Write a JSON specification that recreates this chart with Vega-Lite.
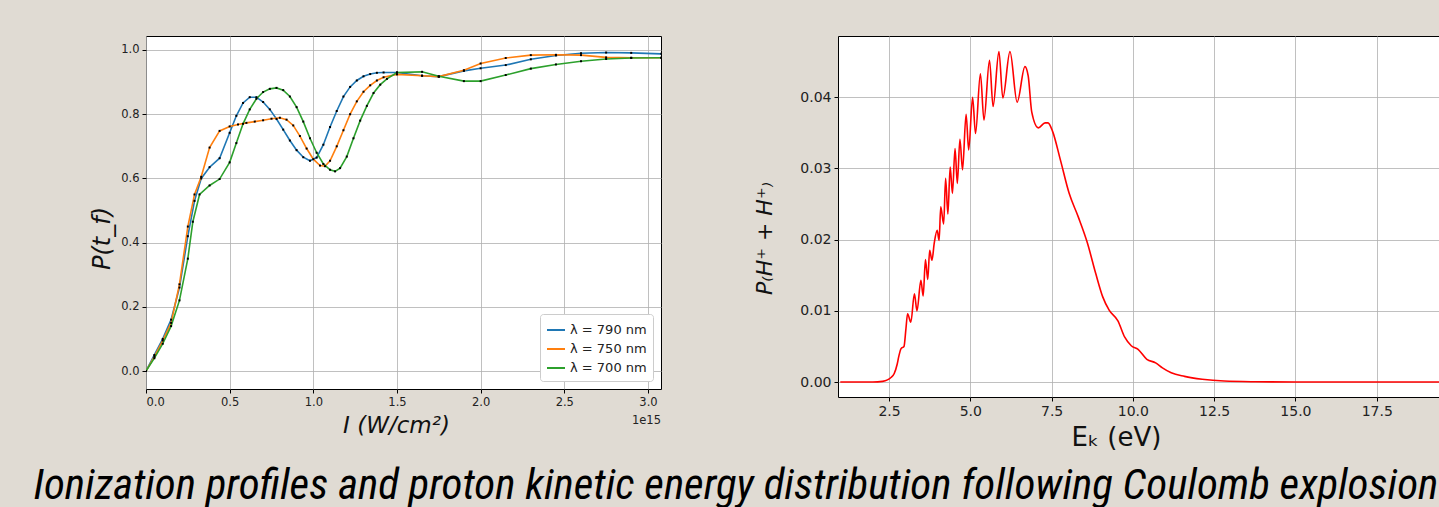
{
  "$schema": "https://vega.github.io/schema/vega-lite/v6.json",
  "background": "#e0dbd3",
  "padding": {"left": 33, "top": 35, "right": 0, "bottom": 0},
  "autosize": {"type": "pad"},
  "bounds": "flush",
  "spacing": 177,
  "resolve": {"scale": {"color": "independent"}, "legend": {"color": "independent"}},
  "config": {
    "font": "DejaVu Sans",
    "view": {"stroke": "black", "strokeWidth": 1, "fill": "white"},
    "axis": {
      "domain": false, "grid": true, "gridColor": "#b0b0b0", "gridWidth": 0.8,
      "tickColor": "black", "tickSize": 4, "labelPadding": 3,
      "labelFont": "DejaVu Sans", "labelColor": "#222",
      "titleFont": "DejaVu Sans", "titleFontWeight": "normal", "titleColor": "#111"
    }
  },
  "title": {
    "text": "Ionization profiles and proton kinetic energy distribution following Coulomb explosion",
    "orient": "bottom", "anchor": "start",
    "font": "Roboto Condensed, Liberation Sans Narrow, DejaVu Sans Condensed, sans-serif",
    "fontSize": 43, "fontStyle": "italic", "fontWeight": "normal", "color": "black",
    "baseline": "alphabetic", "offset": 48, "dx": -56
  },
  "datasets": {
    "ion": [
      {"I":0.00,"P":0.0,"nm":790},{"I":0.05,"P":0.05,"nm":790},{"I":0.10,"P":0.10,"nm":790},{"I":0.15,"P":0.16,"nm":790},{"I":0.20,"P":0.26,"nm":790},{"I":0.25,"P":0.42,"nm":790},{"I":0.29,"P":0.53,"nm":790},{"I":0.33,"P":0.60,"nm":790},{"I":0.38,"P":0.635,"nm":790},{"I":0.44,"P":0.663,"nm":790},{"I":0.50,"P":0.742,"nm":790},{"I":0.54,"P":0.795,"nm":790},{"I":0.58,"P":0.835,"nm":790},{"I":0.62,"P":0.853,"nm":790},{"I":0.66,"P":0.853,"nm":790},{"I":0.70,"P":0.838,"nm":790},{"I":0.74,"P":0.815,"nm":790},{"I":0.78,"P":0.785,"nm":790},{"I":0.82,"P":0.752,"nm":790},{"I":0.86,"P":0.718,"nm":790},{"I":0.90,"P":0.688,"nm":790},{"I":0.94,"P":0.666,"nm":790},{"I":0.98,"P":0.655,"nm":790},{"I":1.02,"P":0.665,"nm":790},{"I":1.06,"P":0.705,"nm":790},{"I":1.10,"P":0.76,"nm":790},{"I":1.14,"P":0.81,"nm":790},{"I":1.18,"P":0.855,"nm":790},{"I":1.22,"P":0.885,"nm":790},{"I":1.26,"P":0.905,"nm":790},{"I":1.30,"P":0.918,"nm":790},{"I":1.34,"P":0.925,"nm":790},{"I":1.38,"P":0.929,"nm":790},{"I":1.42,"P":0.93,"nm":790},{"I":1.50,"P":0.93,"nm":790},{"I":1.65,"P":0.92,"nm":790},{"I":1.75,"P":0.917,"nm":790},{"I":1.90,"P":0.935,"nm":790},{"I":2.00,"P":0.943,"nm":790},{"I":2.15,"P":0.953,"nm":790},{"I":2.30,"P":0.971,"nm":790},{"I":2.45,"P":0.983,"nm":790},{"I":2.60,"P":0.99,"nm":790},{"I":2.75,"P":0.992,"nm":790},{"I":2.90,"P":0.991,"nm":790},{"I":3.08,"P":0.988,"nm":790},
      {"I":0.00,"P":0.0,"nm":750},{"I":0.05,"P":0.045,"nm":750},{"I":0.10,"P":0.095,"nm":750},{"I":0.15,"P":0.15,"nm":750},{"I":0.20,"P":0.27,"nm":750},{"I":0.25,"P":0.45,"nm":750},{"I":0.29,"P":0.55,"nm":750},{"I":0.33,"P":0.605,"nm":750},{"I":0.38,"P":0.696,"nm":750},{"I":0.44,"P":0.748,"nm":750},{"I":0.50,"P":0.762,"nm":750},{"I":0.55,"P":0.768,"nm":750},{"I":0.60,"P":0.773,"nm":750},{"I":0.65,"P":0.777,"nm":750},{"I":0.70,"P":0.781,"nm":750},{"I":0.75,"P":0.786,"nm":750},{"I":0.80,"P":0.789,"nm":750},{"I":0.84,"P":0.783,"nm":750},{"I":0.88,"P":0.765,"nm":750},{"I":0.92,"P":0.732,"nm":750},{"I":0.96,"P":0.693,"nm":750},{"I":1.00,"P":0.66,"nm":750},{"I":1.04,"P":0.64,"nm":750},{"I":1.07,"P":0.638,"nm":750},{"I":1.10,"P":0.655,"nm":750},{"I":1.14,"P":0.70,"nm":750},{"I":1.18,"P":0.75,"nm":750},{"I":1.22,"P":0.80,"nm":750},{"I":1.26,"P":0.84,"nm":750},{"I":1.30,"P":0.87,"nm":750},{"I":1.34,"P":0.89,"nm":750},{"I":1.38,"P":0.905,"nm":750},{"I":1.42,"P":0.915,"nm":750},{"I":1.50,"P":0.924,"nm":750},{"I":1.65,"P":0.92,"nm":750},{"I":1.75,"P":0.917,"nm":750},{"I":1.90,"P":0.937,"nm":750},{"I":2.00,"P":0.958,"nm":750},{"I":2.15,"P":0.975,"nm":750},{"I":2.30,"P":0.984,"nm":750},{"I":2.45,"P":0.985,"nm":750},{"I":2.60,"P":0.984,"nm":750},{"I":2.75,"P":0.977,"nm":750},{"I":2.90,"P":0.976,"nm":750},{"I":3.08,"P":0.976,"nm":750},
      {"I":0.00,"P":0.0,"nm":700},{"I":0.05,"P":0.04,"nm":700},{"I":0.10,"P":0.085,"nm":700},{"I":0.15,"P":0.14,"nm":700},{"I":0.20,"P":0.22,"nm":700},{"I":0.25,"P":0.35,"nm":700},{"I":0.28,"P":0.465,"nm":700},{"I":0.32,"P":0.55,"nm":700},{"I":0.38,"P":0.578,"nm":700},{"I":0.44,"P":0.598,"nm":700},{"I":0.50,"P":0.65,"nm":700},{"I":0.54,"P":0.71,"nm":700},{"I":0.58,"P":0.77,"nm":700},{"I":0.62,"P":0.815,"nm":700},{"I":0.66,"P":0.848,"nm":700},{"I":0.70,"P":0.869,"nm":700},{"I":0.74,"P":0.879,"nm":700},{"I":0.78,"P":0.882,"nm":700},{"I":0.82,"P":0.875,"nm":700},{"I":0.86,"P":0.855,"nm":700},{"I":0.90,"P":0.822,"nm":700},{"I":0.94,"P":0.777,"nm":700},{"I":0.98,"P":0.725,"nm":700},{"I":1.02,"P":0.68,"nm":700},{"I":1.06,"P":0.645,"nm":700},{"I":1.10,"P":0.627,"nm":700},{"I":1.13,"P":0.622,"nm":700},{"I":1.16,"P":0.632,"nm":700},{"I":1.20,"P":0.668,"nm":700},{"I":1.24,"P":0.725,"nm":700},{"I":1.28,"P":0.78,"nm":700},{"I":1.32,"P":0.826,"nm":700},{"I":1.36,"P":0.866,"nm":700},{"I":1.40,"P":0.892,"nm":700},{"I":1.44,"P":0.91,"nm":700},{"I":1.50,"P":0.93,"nm":700},{"I":1.65,"P":0.932,"nm":700},{"I":1.75,"P":0.918,"nm":700},{"I":1.90,"P":0.903,"nm":700},{"I":2.00,"P":0.903,"nm":700},{"I":2.15,"P":0.922,"nm":700},{"I":2.30,"P":0.942,"nm":700},{"I":2.45,"P":0.955,"nm":700},{"I":2.60,"P":0.965,"nm":700},{"I":2.75,"P":0.972,"nm":700},{"I":2.90,"P":0.975,"nm":700},{"I":3.08,"P":0.976,"nm":700}
    ],
    "ek": [
      {"E":1.0,"P":0},{"E":2.0,"P":0},{"E":2.3,"P":0.0001},{"E":2.45,"P":0.0003},{"E":2.55,"P":0.0006},{"E":2.66,"P":0.0012},{"E":2.75,"P":0.0025},{"E":2.8,"P":0.0036},{"E":2.87,"P":0.0047},{"E":2.96,"P":0.005},{"E":3.02,"P":0.0075},{"E":3.07,"P":0.0096},{"E":3.17,"P":0.0084},{"E":3.28,"P":0.0124},{"E":3.36,"P":0.0100},{"E":3.48,"P":0.0143},{"E":3.55,"P":0.0121},{"E":3.62,"P":0.0172},{"E":3.69,"P":0.0144},{"E":3.75,"P":0.0185},{"E":3.82,"P":0.0171},{"E":3.89,"P":0.0195},{"E":3.98,"P":0.0213},{"E":4.04,"P":0.0199},{"E":4.09,"P":0.0246},{"E":4.18,"P":0.0222},{"E":4.24,"P":0.0286},{"E":4.31,"P":0.0236},{"E":4.38,"P":0.0302},{"E":4.45,"P":0.0265},{"E":4.53,"P":0.0328},{"E":4.60,"P":0.0279},{"E":4.68,"P":0.0341},{"E":4.76,"P":0.0298},{"E":4.87,"P":0.0376},{"E":4.95,"P":0.0326},{"E":5.07,"P":0.0400},{"E":5.16,"P":0.0349},{"E":5.31,"P":0.0433},{"E":5.42,"P":0.0368},{"E":5.59,"P":0.0452},{"E":5.70,"P":0.0387},{"E":5.88,"P":0.0464},{"E":6.0,"P":0.0399},{"E":6.22,"P":0.0464},{"E":6.44,"P":0.0393},{"E":6.68,"P":0.0443},{"E":6.78,"P":0.043},{"E":6.89,"P":0.0379},{"E":7.09,"P":0.0357},{"E":7.3,"P":0.0364},{"E":7.39,"P":0.0364},{"E":7.53,"P":0.0352},{"E":7.77,"P":0.0312},{"E":8.04,"P":0.0265},{"E":8.32,"P":0.0232},{"E":8.59,"P":0.0197},{"E":8.86,"P":0.0152},{"E":9.07,"P":0.012},{"E":9.27,"P":0.0101},{"E":9.54,"P":0.0086},{"E":9.75,"P":0.0063},{"E":9.95,"P":0.0051},{"E":10.16,"P":0.0046},{"E":10.43,"P":0.0032},{"E":10.7,"P":0.0027},{"E":10.91,"P":0.002},{"E":11.18,"P":0.0013},{"E":11.59,"P":0.0008},{"E":12.13,"P":0.0004},{"E":12.81,"P":0.00014},{"E":13.77,"P":0.00004},{"E":15.0,"P":0},{"E":17.0,"P":0},{"E":21.2,"P":0}
    ]
  },
  "hconcat": [
    {
      "width": 515, "height": 353,
      "title": {"text": "1e15", "orient": "bottom", "anchor": "end", "frame": "group", "fontSize": 11.5, "fontWeight": "normal", "color": "#222", "offset": 0, "dy": -22},
      "data": {"name": "ion"},
      "layer": [
        {
          "mark": {"type": "line", "strokeWidth": 1.6, "clip": true},
          "encoding": {
            "x": {"field": "I", "type": "quantitative", "scale": {"domain": [0, 3.078], "nice": false, "zero": false},
                  "axis": {"values": [0, 0.5, 1, 1.5, 2, 2.5, 3], "format": ".1f", "labelFontSize": 11.5, "title": "I (W/cm²)", "titleFontSize": 23, "titleFontStyle": "italic", "titleX": 250, "titleY": 36, "titleBaseline": "middle", "titleAnchor": null, "titleAlign": "center"}},
            "y": {"field": "P", "type": "quantitative", "scale": {"domain": [-0.056, 1.0436], "nice": false, "zero": false},
                  "axis": {"values": [0, 0.2, 0.4, 0.6, 0.8, 1.0], "format": ".1f", "labelFontSize": 11.5, "title": "P(t_f)", "titleFontSize": 24, "titleFontStyle": "italic", "titleX": -44, "titleY": 202, "titleBaseline": "middle", "titleAlign": "center", "titleAngle": -90, "titleAnchor": null}},
            "color": {"field": "nm", "type": "nominal",
                      "scale": {"domain": [790, 750, 700], "range": ["#1f77b4", "#ff7f0e", "#2ca02c"]},
                      "legend": {"title": null, "orient": "bottom-right", "offset": 8, "fillColor": "white", "strokeColor": "#cccccc", "cornerRadius": 3, "padding": 6, "symbolType": "stroke", "symbolStrokeWidth": 2, "symbolSize": 324, "labelFontSize": 13, "labelColor": "#222", "rowPadding": 2, "labelExpr": "'λ = ' + datum.label + ' nm'"}}
          }
        },
        {
          "mark": {"type": "point", "filled": true, "shape": "square", "size": 4, "color": "black", "opacity": 1, "clip": true},
          "encoding": {
            "x": {"field": "I", "type": "quantitative"},
            "y": {"field": "P", "type": "quantitative"},
            "detail": {"field": "nm", "type": "nominal"}
          }
        }
      ]
    },
    {
      "width": 659, "height": 361,
      "data": {"name": "ek"},
      "mark": {"type": "line", "color": "#ff0000", "strokeWidth": 1.6, "interpolate": "monotone", "clip": true},
      "encoding": {
        "x": {"field": "E", "type": "quantitative", "scale": {"domain": [0.93, 21.2], "nice": false, "zero": false},
              "axis": {"values": [2.5, 5, 7.5, 10, 12.5, 15, 17.5], "format": ".1f", "labelFontSize": 14, "title": "Eₖ (eV)", "titleFontSize": 26, "titleX": 278, "titleY": 40, "titleBaseline": "middle", "titleAnchor": null, "titleAlign": "center"}},
        "y": {"field": "P", "type": "quantitative", "scale": {"domain": [-0.0021, 0.0486], "nice": false, "zero": false},
              "axis": {"values": [0, 0.01, 0.02, 0.03, 0.04], "format": ".2f", "labelFontSize": 14, "title": "P₍H⁺ + H⁺₎", "titleFontSize": 22, "titleFontStyle": "italic", "titleX": -74, "titleY": 202, "titleBaseline": "middle", "titleAlign": "center", "titleAngle": -90, "titleAnchor": null}}
      }
    }
  ]
}
